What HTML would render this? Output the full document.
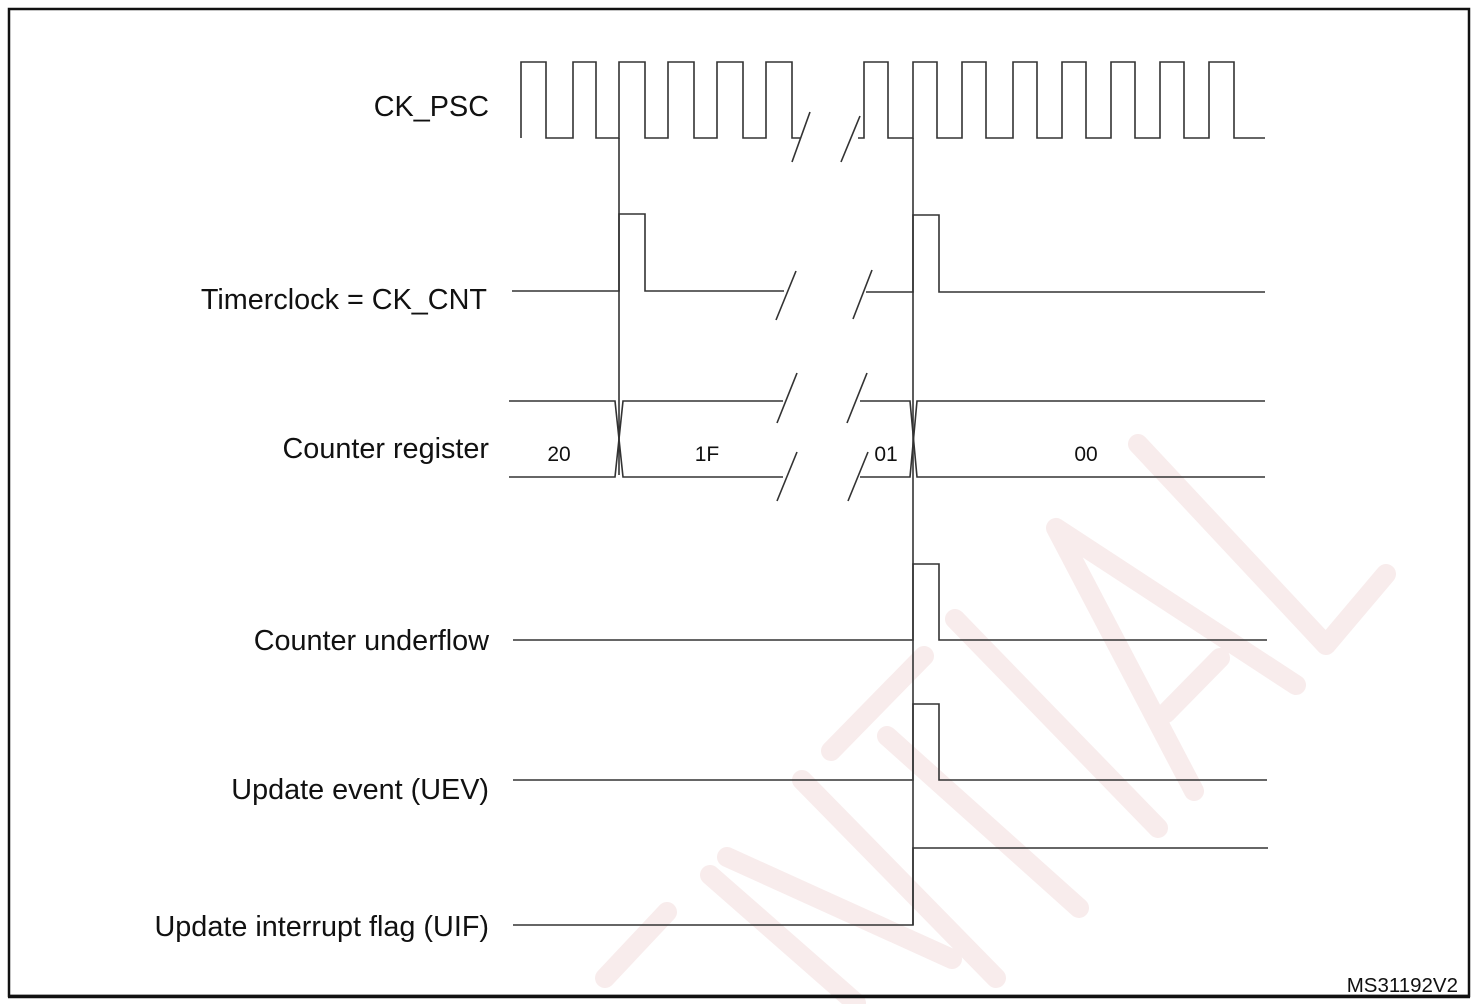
<!DOCTYPE html>
<html><head><meta charset="utf-8"><style>
html,body{margin:0;padding:0;background:#fff;}
svg{display:block;}
text{font-family:"Liberation Sans",Arial,sans-serif;fill:#111;}
</style></head><body>
<svg width="1478" height="1004" viewBox="0 0 1478 1004" xmlns="http://www.w3.org/2000/svg">
<rect x="0" y="0" width="1478" height="1004" fill="#fff"/>
<!-- watermark -->
<g stroke="#f8ecec" stroke-width="20" stroke-linecap="round" stroke-linejoin="round" fill="none">
<polyline points="1138,444 1326,645 1386,574"/>
<polyline points="1194,791 1056,528 1296,685"/>
<line x1="1220" y1="658" x2="1166" y2="713"/>
<line x1="955" y1="619" x2="1158" y2="828"/>
<line x1="924" y1="656" x2="831" y2="751"/>
<line x1="887" y1="736" x2="1079" y2="908"/>
<line x1="802" y1="780" x2="996" y2="978"/>
<line x1="727" y1="857" x2="952" y2="959"/>
<line x1="710" y1="875" x2="856" y2="1003"/>
<line x1="667" y1="912" x2="605" y2="978"/>
</g>
<!-- frame -->
<rect x="9" y="9" width="1460" height="987" fill="none" stroke="#111" stroke-width="2.5"/>
<line x1="8" y1="996.5" x2="1470" y2="996.5" stroke="#111" stroke-width="3.5"/>
<g stroke="#333" stroke-width="1.6" fill="none">
<!-- CK_PSC -->
<polyline points="521,138 521,62 546,62 546,138 573,138 573,62 596,62 596,138 619,138 619,62 645,62 645,138 668,138 668,62 694,62 694,138 717,138 717,62 743,62 743,138 766,138 766,62 792,62 792,138 800,138"/>
<polyline points="858,138 864,138 864,62 888,62 888,138 913,138 913,62 937,62 937,138 962,138 962,62 986,62 986,138 1013,138 1013,62 1037,62 1037,138 1062,138 1062,62 1086,62 1086,138 1111,138 1111,62 1135,62 1135,138 1160,138 1160,62 1184,62 1184,138 1209,138 1209,62 1234,62 1234,138 1265,138"/>
<line x1="792" y1="162" x2="810" y2="112"/>
<line x1="841" y1="162" x2="860" y2="116"/>
<!-- Timerclock -->
<polyline points="512,291 619,291 619,214 645,214 645,291 784,291"/>
<line x1="776" y1="320" x2="796" y2="271"/>
<line x1="853" y1="319" x2="872" y2="270"/>
<polyline points="866,292 913,292 913,215 939,215 939,292 1265,292"/>
<!-- Counter register -->
<polyline points="509,401 615,401 623,477 783,477"/>
<polyline points="509,477 615,477 623,401 783,401"/>
<line x1="777" y1="423" x2="797" y2="373"/>
<line x1="847" y1="423" x2="867" y2="373"/>
<line x1="777" y1="501" x2="797" y2="452"/>
<line x1="848" y1="501" x2="868" y2="452"/>
<polyline points="860,401 910,401 917,477 1265,477"/>
<polyline points="860,477 910,477 917,401 1265,401"/>
<!-- verticals -->
<line x1="619" y1="138" x2="619" y2="475"/>
<line x1="913" y1="138" x2="913" y2="925"/>
<!-- underflow -->
<polyline points="513,640 913,640 913,564 939,564 939,640 1267,640"/>
<!-- UEV -->
<polyline points="513,780 913,780 913,704 939,704 939,780 1267,780"/>
<!-- UIF -->
<polyline points="513,925 913,925 913,848 1268,848"/>
</g>
<g font-size="28.8" text-anchor="end">
<text x="489" y="116">CK_PSC</text>
<text x="487" y="309">Timerclock = CK_CNT</text>
<text x="489" y="458">Counter register</text>
<text x="489" y="650">Counter underflow</text>
<text x="489" y="799">Update event (UEV)</text>
<text x="489" y="936">Update interrupt flag (UIF)</text>
</g>
<g font-size="21" text-anchor="middle">
<text x="559" y="461">20</text>
<text x="707" y="461">1F</text>
<text x="886" y="461">01</text>
<text x="1086" y="461">00</text>
</g>
<text x="1458" y="992" font-size="20.5" text-anchor="end">MS31192V2</text>
</svg>
</body></html>
